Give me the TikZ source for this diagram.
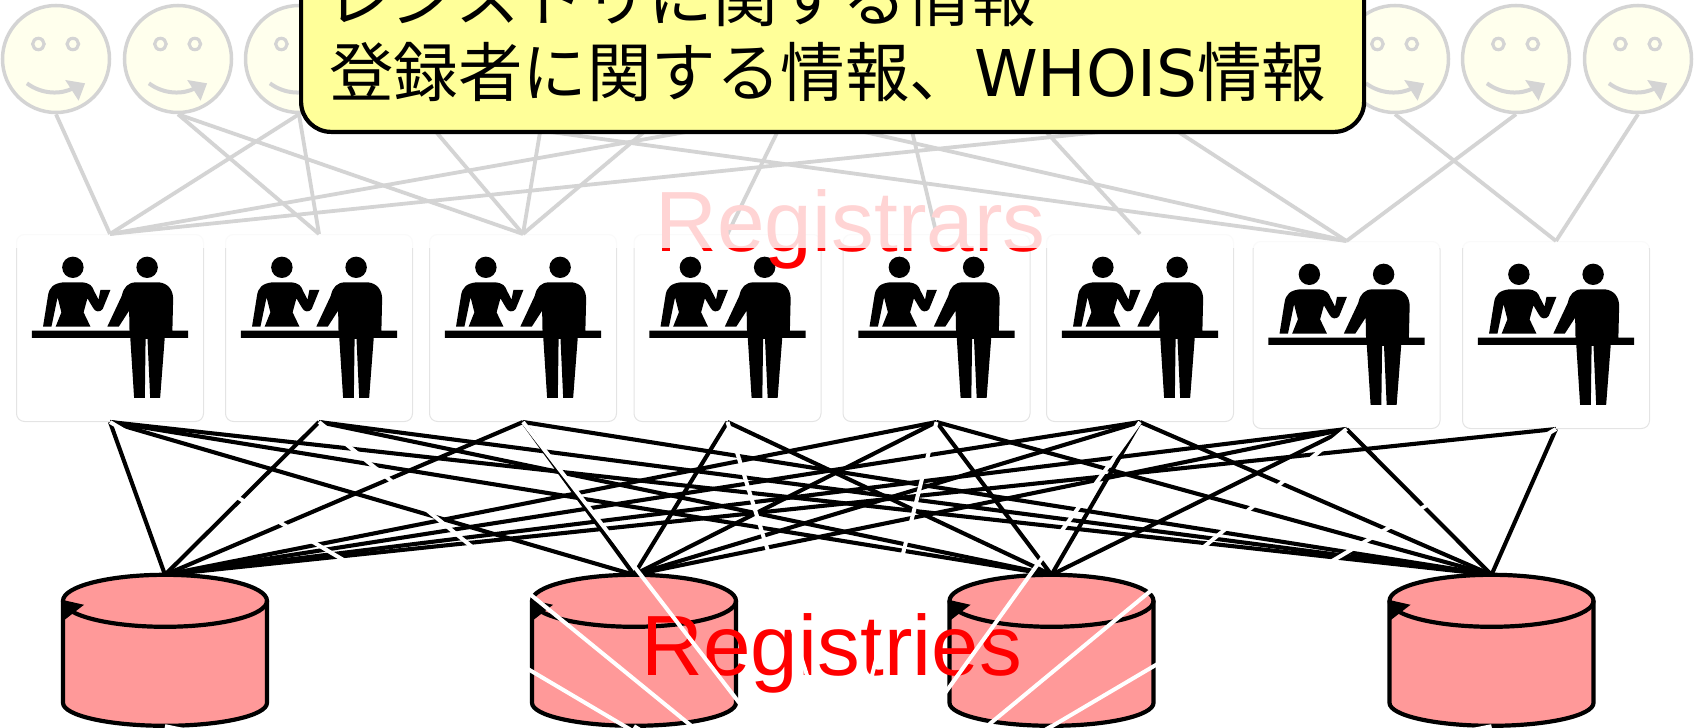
\documentclass[tikz,border=0pt]{standalone}
\usepackage{fontspec}
\setmainfont{Liberation Sans}
\newfontfamily\cjkf{Noto Sans CJK JP}
\newfontfamily\latf{DejaVu Sans}
\definecolor{paleyellow}{HTML}{FFFF99}
\definecolor{tankred}{HTML}{FF9999}
\definecolor{boxedge}{HTML}{E4E4E4}
\tikzset{
  facenode/.style={circle,draw=black,line width=3.5pt,fill=paleyellow,minimum size=107pt,inner sep=0pt},
  deskbox/.style={rectangle,draw=boxedge,line width=1pt,fill=white,rounded corners=8pt,minimum width=187pt,minimum height=187pt,inner sep=0pt},
  tanknode/.style={rectangle,minimum width=204pt,minimum height=151pt,inner sep=0pt},
  faintlink/.style={draw=black,line width=3.8pt},
  solidlink/.style={draw=black,line width=4.1pt},
  whitelink/.style={draw=white,line width=4pt},
  bigred/.style={text=red,inner sep=0pt,anchor=base west,font=\fontsize{85.5}{85.5}\selectfont},
  jptext/.style={text=black,inner sep=0pt,anchor=base west,font=\cjkf\fontsize{64.5}{64.5}\selectfont},
  clerk/.pic={
    \begin{scope}[x=.3827pt,y=-.3333pt,shift={(-287,-700)}]
      \fill (190,800) ellipse [x radius=28,y radius=32];
      \fill (384,800) ellipse [x radius=28,y radius=32];
      \fill (112,978) -- (125,885) .. controls (128,860) and (140,848) .. (165,845) -- (215,845)
        .. controls (235,848) and (240,855) .. (245,870) -- (257,897) -- (262,868) -- (288,868)
        -- (268,925) .. controls (262,935) and (248,935) .. (243,922) -- (228,893) -- (218,935)
        -- (236,978) -- (145,978) -- (160,935) -- (150,890) -- (134,978) -- cycle;
      \fill (280,978) -- (318,885) .. controls (322,860) and (335,845) .. (355,845) -- (415,845)
        .. controls (440,848) and (452,870) .. (452,895) -- (450,990) -- (491,990) -- (491,1012)
        -- (430,1012) -- (418,1192) -- (392,1192) -- (385,1015) -- (380,1015) -- (378,1192)
        -- (350,1192) -- (340,1012) -- (83,1012) -- (83,990) -- (338,990) -- (337,930) -- (310,978) -- cycle;
    \end{scope}
  },
  smiley/.pic={
    \begin{scope}[x=.3827pt,y=-.3333pt,shift={(-146,-175)}]
      \draw[line width=3.2pt] (100,130) ellipse [x radius=15,y radius=17];
      \draw[line width=3.2pt] (190,130) ellipse [x radius=15,y radius=17];
      \draw[line width=4pt] (70,248) .. controls (110,282) and (160,282) .. (192,262);
      \fill (170,238) -- (222,248) -- (205,300) -- cycle;
    \end{scope}
  },
  tank/.pic={
    \draw[fill=tankred,line width=4.2pt] (-102,26) arc[start angle=180,end angle=0,x radius=102pt,y radius=26pt]
      -- (102,128) arc[start angle=0,end angle=-180,x radius=102pt,y radius=23pt] -- cycle;
    \draw[line width=4.2pt] (102,26) arc[start angle=0,end angle=-180,x radius=102pt,y radius=26pt];
    \fill (-103,25) -- (-81,30) -- (-103,47) -- cycle;
  }
}
\begin{document}
\begin{tikzpicture}[x=1pt,y=-1pt]
\useasboundingbox (0,0) rectangle (1698,728);
% users
\foreach \i/\x in {1/56,2/178,3/299,4/421,5/543,6/665,7/786,8/908,9/1030,10/1151,11/1273,12/1395,13/1516,14/1638}{
  \node[facenode] (f\i) at (\x,59) {};
  \pic at (f\i.center) {smiley};
}
% registrars
\foreach \i/\x/\y in {1/110/328,2/319/328,3/523/328,4/727.5/328,5/936.5/328,6/1140/328,7/1346.5/335,8/1556/335}{
  \node[deskbox] (r\i) at (\x,\y) {};
}
\foreach \u/\r in {1/1,2/2,2/3,3/1,3/2,4/3,4/7,5/3,6/3,7/1,7/4,7/7,8/5,9/6,10/7,11/1,12/8,13/7,14/8}{
  \draw[faintlink] (f\u.south) -- (r\r.north);
}
\foreach \i in {1,...,8}{
  \pic at (r\i.north) {clerk};
}
\node[bigred] (regr) at (655.5,251) {Registrars};
\fill[white,opacity=.83] (0,0) rectangle (1698,248);
% registries
\foreach \i/\x in {1/165,2/634,3/1051.5,4/1491.5}{
  \node[tanknode] (g\i) at (\x,650.5) {};
}
\foreach \r/\g in {1/1,1/2,1/3,1/4,2/1,2/3,2/4,3/1,3/2,3/4,4/2,4/3,5/1,5/2,5/3,5/4,6/1,6/2,6/3,6/4,7/1,7/2,7/3,7/4,8/1,8/4}{
  \draw[solidlink] (r\r.south) -- (g\g.north);
}
\foreach \i in {1,...,4}{
  \pic at (g\i.north) {tank};
}
\node[bigred] (regy) at (641.5,675) {Registries};
% hidden layer lines
\coordinate (hubl) at (868,870);
\coordinate (hubr) at (825,860);
\foreach \r in {1,2,3,4}{\draw[whitelink] (r\r.south) -- (hubl);}
\foreach \r in {5,6,7,8}{\draw[whitelink] (r\r.south) -- (hubr);}
\draw[whitelink] (g1.south) -- (hubl);
\draw[whitelink] (g2.south) -- (hubl);
\draw[whitelink] (g3.south) -- (hubr);
\draw[whitelink] (g4.south) -- (hubr);
% callout
\node[rectangle,draw=black,line width=4.2pt,fill=paleyellow,rounded corners=30pt,minimum width=1063pt,minimum height=260pt,anchor=south west,inner sep=0pt] (info) at (299,134) {};
\node[jptext] (infoa) at (326,21) {レジストリに関する情報};
\node[jptext] (infob) at (329,96) {登録者に関する情報、{\latf WHOIS}情報};
\end{tikzpicture}
\end{document}
